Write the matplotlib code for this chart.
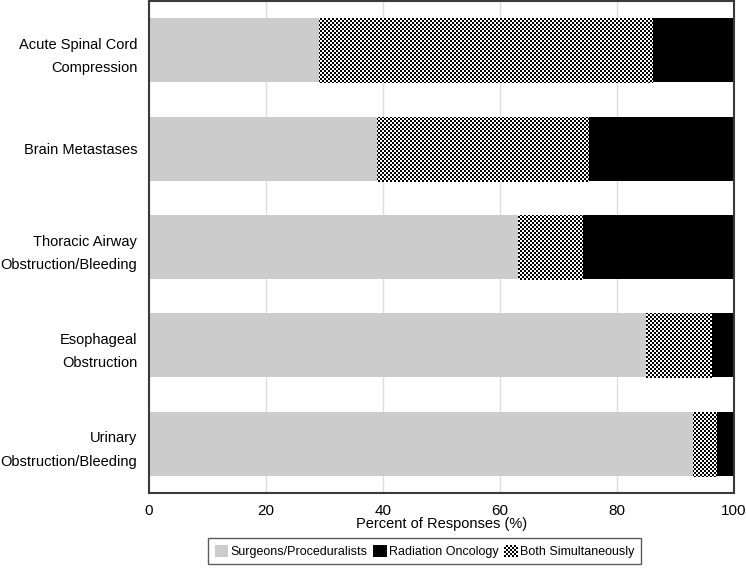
import numpy as np
import matplotlib
matplotlib.use("Agg")
import matplotlib.pyplot as plt
from matplotlib.patches import Patch, Rectangle
from matplotlib.legend_handler import HandlerBase

plt.rcParams["font.family"] = ["Liberation Sans", "DejaVu Sans"]

# data (percent of responses)
categories = ["Acute Spinal Cord\nCompression", "Brain Metastases",
              "Thoracic Airway\nObstruction/Bleeding", "Esophageal\nObstruction",
              "Urinary\nObstruction/Bleeding"]
surgeons = [29, 39, 63, 85, 93]
both = [57, 36, 11, 11, 4]
radiation = [14, 25, 26, 4, 3]

gray = "#cccccc"
frame_col = "#3a3a3a"

W, H = 746, 568
fig = plt.figure(figsize=(W / 100, H / 100), dpi=100)
ax = fig.add_axes([0.1997, 0.132, 0.7842, 0.866])

y = np.arange(len(categories))
h = 0.65
left_both = np.array(surgeons)
left_rad = left_both + np.array(both)

ax.barh(y, surgeons, height=h, color=gray, zorder=2)
both_bars = ax.barh(y, both, left=left_both, height=h, color="white", zorder=2)
ax.barh(y, radiation, left=left_rad, height=h, color="black", zorder=2)

ax.set_xlim(0, 100)
ax.set_ylim(4.5, -0.5)

# checkerboard fill for "Both Simultaneously", pixel-aligned (2 px cells)
ii, jj = np.indices((H, W))
checker = (((ii // 2) + (jj // 2)) % 2).astype(float)
for bar in both_bars:
    im = fig.figimage(checker, xo=0, yo=0, cmap="gray", vmin=0, vmax=1,
                      origin="lower", zorder=3)
    im.set_clip_path(bar)

ax.set_yticks(y)
ax.set_yticklabels(categories, linespacing=1.85)
ax.set_xticks([0, 20, 40, 60, 80, 100])
ax.tick_params(axis="both", length=0)
ax.tick_params(axis="x", pad=8, labelsize=11)
ax.tick_params(axis="y", pad=8.5, labelsize=10.5)
ax.grid(axis="x", color="#dddddd", linewidth=1, zorder=0)
ax.set_axisbelow(True)
for s in ax.spines.values():
    s.set_color(frame_col)
    s.set_linewidth(1.5)
ax.set_xlabel("Percent of Responses (%)", fontsize=10.5, labelpad=-1)


class CheckerHandler(HandlerBase):
    def create_artists(self, legend, orig_handle, xdescent, ydescent,
                       width, height, fontsize, trans):
        arts = []
        n = 6
        cw = height / n
        nxc = int(round(width / cw))
        for r in range(n):
            for c in range(nxc):
                col = "black" if (r + c) % 2 == 0 else "white"
                arts.append(Rectangle((-xdescent + c * cw, -ydescent + r * cw), cw, cw,
                                      facecolor=col, edgecolor="none", transform=trans))
        return arts


h_surg = Patch(facecolor=gray, edgecolor="none")
h_rad = Patch(facecolor="black", edgecolor="none")
h_both = Patch(facecolor="white", edgecolor="none")
leg = fig.legend([h_surg, h_rad, h_both],
                 ["Surgeons/Proceduralists", "Radiation Oncology", "Both Simultaneously"],
                 loc="lower center", bbox_to_anchor=(0.569, 0.007), ncol=3,
                 fontsize=9, frameon=True, fancybox=False, edgecolor="#333333",
                 handlelength=1.1, handleheight=1.1, handletextpad=0.2,
                 columnspacing=0.4, borderpad=0.5, borderaxespad=0,
                 handler_map={h_both: CheckerHandler()})
leg.get_frame().set_linewidth(1.0)

fig.savefig("out.png", dpi=100)
